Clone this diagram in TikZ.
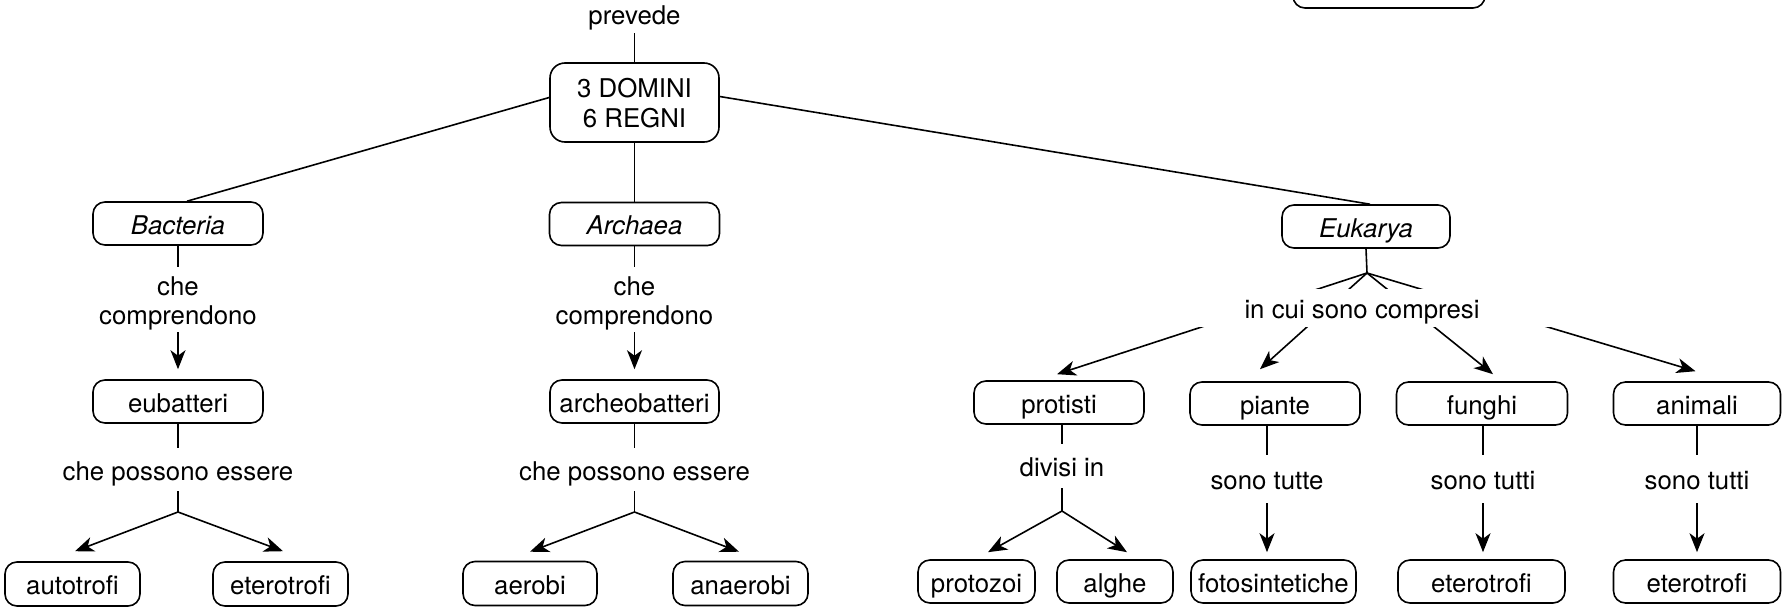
\documentclass[tikz,border=0pt]{standalone}
\usepackage{fontspec}
\setmainfont{TeX Gyre Heros}
\usetikzlibrary{arrows.meta}
\newcommand{\twolines}[2]{\parbox[c]{230pt}{\vspace*{7pt}\centering #1\\#2}}
\begin{document}
\begin{tikzpicture}[x=1pt,y=-1pt,
  every node/.style={font=\fontsize{25.8}{29}\selectfont},
  box/.style={draw, line width=1.6pt, rounded corners=12pt, inner sep=0pt, minimum height=43pt, text height=22.5pt, text depth=1.5pt},
  lbl/.style={inner sep=0pt, text height=22.5pt, text depth=1.5pt},
  lbltwo/.style={inner sep=0pt},
  conn/.style={line width=1.6pt},
  arr/.style={line width=1.6pt, -{Stealth[length=19pt,width=15pt,inset=5.5pt]}}]
\useasboundingbox (0,0) rectangle (1782,608);
\clip (0,0) rectangle (1782,608);

% partial box at the top right
\node[box, minimum width=192pt, minimum height=60pt] (topbox) at (1389,-22) {};

\node[lbl, minimum height=39pt] (prevede) at (634.5,13.5) {prevede};
\node[box, minimum width=169pt, minimum height=79pt, rounded corners=15pt, text height=, text depth=] (main) at (634.5,102.5) {\parbox[c]{160pt}{\vspace*{2pt}\centering\baselineskip=30pt 3 DOMINI\\6 REGNI}};

\node[box, minimum width=170pt] (bac) at (178,223.5) {\itshape Bacteria};
\node[box, minimum width=170pt] (arc) at (634.5,224) {\itshape Archaea};
\node[box, minimum width=168pt] (euk) at (1366,226.5) {\itshape Eukarya};

% Bacteria column
\node[lbltwo, minimum height=65pt] (tbac) at (178,299.5) {\twolines{che}{comprendono}};
\node[box, minimum width=170pt] (eub) at (178,401.5) {eubatteri};
\node[lbl, minimum height=43pt] (pbac) at (178,469.5) {che possono essere};
\coordinate (sbac) at (178,512);
\node[box, minimum width=135pt, minimum height=44pt] (auto) at (72.5,584) {autotrofi};
\node[box, minimum width=135pt, minimum height=44pt] (eter1) at (280.5,584) {eterotrofi};

% Archaea column
\node[lbltwo, minimum height=65pt] (tarc) at (634.5,299.5) {\twolines{che}{comprendono}};
\node[box, minimum width=169pt] (archeo) at (634.5,401.5) {archeobatteri};
\node[lbl, minimum height=43pt] (parc) at (634.5,469.5) {che possono essere};
\coordinate (sarc) at (634.5,512);
\node[box, minimum width=134pt, minimum height=44pt] (aer) at (530,583.5) {aerobi};
\node[box, minimum width=135pt, minimum height=44pt] (anaer) at (740.5,583.5) {anaerobi};

% Eukarya column
\coordinate (fan) at (1367,273);
\node[box, minimum width=170pt] (prot) at (1059,402.5) {protisti};
\node[box, minimum width=170pt] (pian) at (1275,403.5) {piante};
\node[box, minimum width=171pt] (fung) at (1482,403.5) {funghi};
\node[box, minimum width=167pt] (anim) at (1697,403.5) {animali};
\node[lbl, minimum height=44pt] (div) at (1062,466) {divisi in};
\coordinate (spro) at (1062,511);
\node[box, minimum width=117pt] (protoz) at (976.5,581.5) {protozoi};
\node[box, minimum width=116pt] (algh) at (1115,581.5) {alghe};
\node[lbl, minimum height=48pt] (stp) at (1267,479) {sono tutte};
\node[box, minimum width=165pt] (foto) at (1273.5,581.5) {fotosintetiche};
\node[lbl, minimum height=48pt] (stf) at (1483,479) {sono tutti};
\node[box, minimum width=167pt] (eter2) at (1481.5,581.5) {eterotrofi};
\node[lbl, minimum height=48pt] (sta) at (1697,479) {sono tutti};
\node[box, minimum width=167pt] (eter3) at (1697,581.5) {eterotrofi};

% connectors: top
\draw[conn] (prevede.south) -- (main.north);
\draw[conn] ([yshift=5pt]main.west) -- ([xshift=9pt]bac.north);
\draw[conn] (main.south) -- (arc.north);
\draw[conn] ([yshift=6pt]main.east) -- ([xshift=4pt]euk.north);

% Bacteria
\draw[conn] (bac.south) -- (tbac.north);
\draw[arr] (tbac.south) -- ([yshift=10pt]eub.north);
\draw[conn] (eub.south) -- (pbac.north);
\draw[conn] (pbac.south) -- (sbac);
\draw[arr] (sbac) -- ([xshift=2.5pt,yshift=10pt]auto.north);
\draw[arr] (sbac) -- ([xshift=2.5pt,yshift=10pt]eter1.north);

% Archaea
\draw[conn] (arc.south) -- (tarc.north);
\draw[arr] (tarc.south) -- ([yshift=10pt]archeo.north);
\draw[conn] (archeo.south) -- (parc.north);
\draw[conn] (parc.south) -- (sarc);
\draw[arr] (sarc) -- ([yshift=9pt]aer.north);
\draw[arr] (sarc) -- ([xshift=-1.5pt,yshift=9pt]anaer.north);

% Eukarya
\draw[conn] (euk.south) -- (fan);
\draw[arr] (fan) -- ([xshift=-2pt,yshift=6pt]prot.north);
\draw[arr] (fan) -- ([xshift=-15pt,yshift=12pt]pian.north);
\draw[arr] (fan) -- ([xshift=11pt,yshift=7pt]fung.north);
\draw[arr] (fan) -- ([xshift=-1.5pt,yshift=10pt]anim.north);
\node[lbl, fill=white, minimum width=386pt, minimum height=38pt] (incui) at (1362,308) {in cui sono compresi};

\draw[conn] (prot.south -| div) -- (div.north);
\draw[conn] (div.south) -- (spro);
\draw[arr] (spro) -- ([xshift=11.5pt,yshift=7pt]protoz.north);
\draw[arr] (spro) -- ([xshift=12pt,yshift=7pt]algh.north);

\draw[conn] (pian.south -| stp) -- (stp.north);
\draw[arr, shorten >=7pt] (stp.south) -- (stp.south |- foto.north);
\draw[conn] (fung.south -| stf) -- (stf.north);
\draw[arr, shorten >=7pt] (stf.south) -- (stf.south |- eter2.north);
\draw[conn] (anim.south -| sta) -- (sta.north);
\draw[arr, shorten >=7pt] (sta.south) -- (sta.south |- eter3.north);
\end{tikzpicture}
\end{document}
